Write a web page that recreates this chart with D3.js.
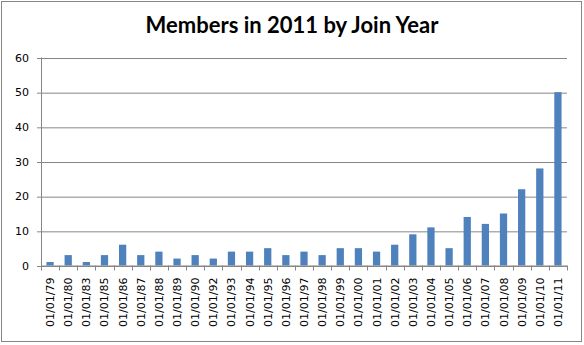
<html lang="en">
<head>
  <meta http-equiv="Content-Type" content="text/html; charset=utf-8" />
  <script src="https://d3js.org/d3.v7.min.js"></script>
  <style>
    body { margin: 0; background: #fff; }
  </style>
</head>
<body>
  <div id="chart"></div>
  <script>
    'use strict';
    const title = "Members in 2011 by Join Year";

    const joinYears = ["01/01/79", "01/01/80", "01/01/83", "01/01/85", "01/01/86", "01/01/87",
      "01/01/88", "01/01/89", "01/01/90", "01/01/92", "01/01/93", "01/01/94", "01/01/95",
      "01/01/96", "01/01/97", "01/01/98", "01/01/99", "01/01/00", "01/01/01", "01/01/02",
      "01/01/03", "01/01/04", "01/01/05", "01/01/06", "01/01/07", "01/01/08", "01/01/09",
      "01/01/10", "01/01/11"];
    const members = [1, 3, 1, 3, 6, 3, 4, 2, 3, 2, 4, 4, 5, 3, 4, 3, 5, 5, 4, 6, 9, 11, 5, 14, 12, 15, 22, 28, 50];
    const yTicks = [0, 10, 20, 30, 40, 50, 60];

    const svgWidth = 584;
    const svgHeight = 345;
    const plot = {left: 41, right: 567, top: 57.5, bottom: 265.5};
    const gray = "#868686";
    const barColor = "#4F81BD";

    const svg = d3.select("#chart").append("svg")
      .attr("width", svgWidth)
      .attr("height", svgHeight);

    // outer chart border
    svg.append("rect")
      .attr("x", 1.5).attr("y", 1.5)
      .attr("width", 580).attr("height", 340)
      .attr("fill", "white").attr("stroke", gray);

    svg.append("text")
      .attr("x", 292).attr("y", 33)
      .attr("text-anchor", "middle")
      .attr("font-family", "Lato")
      .attr("font-weight", "bold")
      .attr("font-size", "22px")
      .attr("fill", "#000")
      .text(title);

    const x = d3.scaleBand()
      .domain(joinYears)
      .range([plot.left, plot.right])
      .paddingInner(0.6)
      .paddingOuter(0.3);

    const y = d3.scaleLinear()
      .domain([0, 60])
      .range([plot.bottom, plot.top]);

    // gridlines + y axis ticks
    const yAxis = d3.axisLeft(y)
      .tickValues(yTicks)
      .tickSize(-(plot.right - plot.left))
      .tickSizeOuter(0)
      .tickPadding(12)
      .tickFormat(d3.format("d"));

    const gy = svg.append("g")
      .attr("transform", `translate(${plot.left},0)`)
      .call(yAxis);
    gy.select(".domain").remove();
    gy.selectAll(".tick line")
      .attr("stroke", gray)
      .attr("x1", -4)
      .attr("transform", "translate(0,0.5)");
    gy.selectAll(".tick text")
      .attr("font-family", "DejaVu Sans")
      .attr("font-size", "11px")
      .attr("fill", "#000");

    // y axis line
    svg.append("line")
      .attr("x1", plot.left + 0.5).attr("x2", plot.left + 0.5)
      .attr("y1", y(60)).attr("y2", y(0) + 0.5)
      .attr("stroke", gray);

    // bars
    svg.append("g").selectAll("rect")
      .data(joinYears)
      .join("rect")
      .attr("x", d => x(d))
      .attr("width", x.bandwidth())
      .attr("y", (d, i) => y(members[i]))
      .attr("height", (d, i) => y(0) - y(members[i]))
      .attr("fill", barColor);

    // x axis line + ticks between categories
    const step = x.step();
    const boundaries = joinYears.map(d => x(d) - step * 0.3).concat([plot.right]);
    svg.append("line")
      .attr("x1", plot.left).attr("x2", plot.right)
      .attr("y1", y(0) + 0.5).attr("y2", y(0) + 0.5)
      .attr("stroke", gray);
    svg.append("g").selectAll("line")
      .data(boundaries)
      .join("line")
      .attr("x1", d => Math.round(d) + 0.5).attr("x2", d => Math.round(d) + 0.5)
      .attr("y1", y(0)).attr("y2", y(0) + 5)
      .attr("stroke", gray);

    // rotated category labels
    svg.append("g").selectAll("text")
      .data(joinYears)
      .join("text")
      .attr("transform", d => `translate(${x(d) + x.bandwidth() / 2 + 4},${y(0) + 12}) rotate(-90)`)
      .attr("text-anchor", "end")
      .attr("font-family", "DejaVu Sans")
      .attr("font-size", "11px")
      .attr("fill", "#000")
      .text(d => d);
  </script>
</body>
</html>
